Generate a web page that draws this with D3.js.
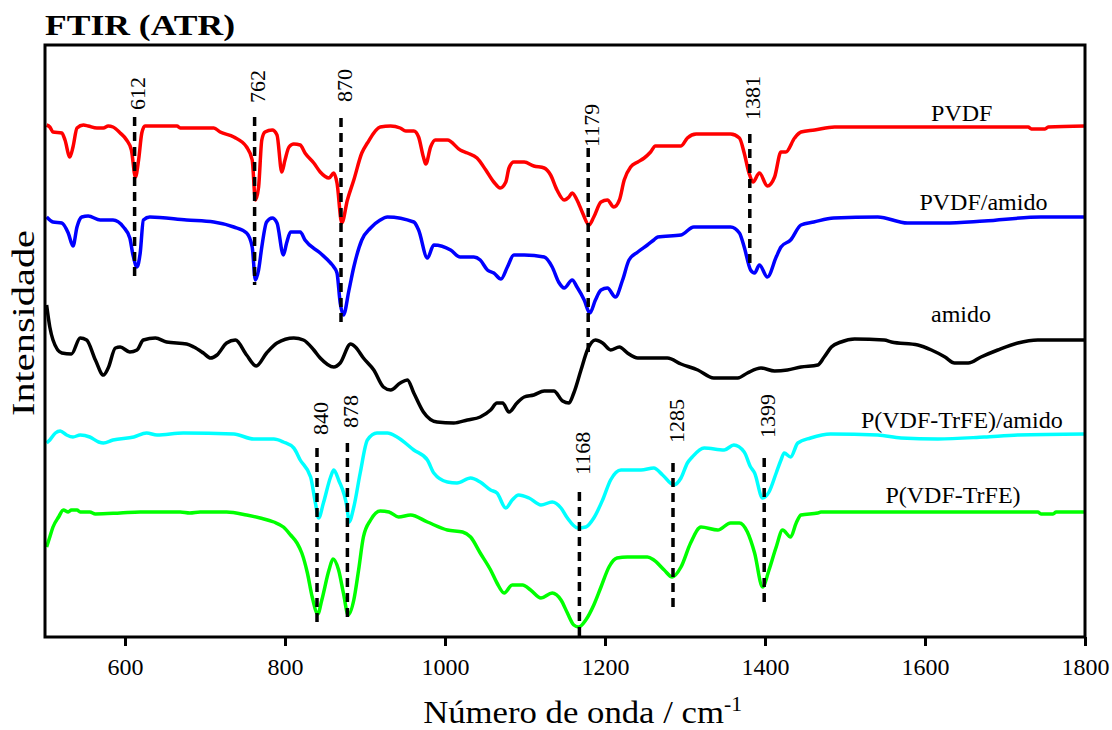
<!DOCTYPE html>
<html>
<head>
<meta charset="utf-8">
<script src="https://cdn.jsdelivr.net/npm/d3@7"></script>
<style>
    body { margin: 0; background: #fff; }
    svg { display: block; font-family: 'Liberation Serif', 'Times New Roman', serif; }
</style>
</head>
<body>
<svg id="chart"></svg>
<script>
// [wavenumber (cm-1), intensity (a.u., stacked)]
const pvdf = [[502,5.12],[506,5.10],[510,5.05],[521,5.04],[525,4.97],[531,4.80],[535,4.90],[540,5.09],[548,5.12],[554,5.11],[565,5.09],[573,5.09],[579,5.11],[585,5.10],[594,5.04],[602,4.97],[608,4.87],[613,4.60],[617,4.77],[621,5.04],[625,5.11],[665,5.11],[669,5.09],[711,5.09],[719,5.05],[736,5.00],[752,4.90],[759,4.77],[763,4.37],[767,4.50],[771,4.97],[775,5.05],[784,5.07],[790,5.02],[796,4.65],[800,4.77],[805,4.90],[811,4.93],[819,4.92],[825,4.84],[836,4.74],[844,4.65],[855,4.59],[861,4.64],[865,4.54],[871,4.14],[878,4.37],[886,4.57],[896,4.84],[903,4.94],[919,5.10],[932,5.11],[944,5.09],[951,5.06],[961,5.06],[967,5.00],[973,4.80],[976,4.73],[982,4.90],[988,4.97],[1003,4.97],[1019,4.87],[1028,4.84],[1040,4.79],[1051,4.67],[1061,4.55],[1069,4.49],[1076,4.55],[1080,4.69],[1086,4.75],[1099,4.75],[1111,4.71],[1124,4.69],[1132,4.62],[1140,4.47],[1149,4.37],[1155,4.40],[1159,4.44],[1165,4.37],[1172,4.24],[1180,4.12],[1186,4.20],[1195,4.35],[1203,4.37],[1211,4.30],[1218,4.37],[1224,4.57],[1232,4.70],[1241,4.75],[1249,4.79],[1257,4.85],[1263,4.91],[1295,4.91],[1303,4.99],[1314,5.03],[1357,5.03],[1368,4.99],[1374,4.84],[1380,4.64],[1385,4.55],[1393,4.64],[1403,4.51],[1412,4.60],[1420,4.85],[1426,4.85],[1437,4.99],[1445,5.05],[1462,5.07],[1487,5.10],[1729,5.10],[1733,5.08],[1750,5.08],[1754,5.10],[1800,5.11]]

const pvdfAmido = [[502,4.20],[510,4.15],[521,4.14],[529,4.04],[535,3.91],[540,4.10],[546,4.20],[554,4.21],[569,4.17],[585,4.17],[598,4.10],[606,3.99],[610,3.82],[615,3.70],[619,3.84],[623,4.17],[631,4.20],[677,4.17],[711,4.15],[736,4.10],[752,4.04],[759,3.90],[763,3.57],[767,3.67],[771,3.90],[777,4.15],[784,4.19],[790,4.14],[798,3.82],[802,3.94],[807,4.05],[819,4.05],[825,3.97],[844,3.84],[857,3.74],[861,3.70],[865,3.64],[869,3.34],[873,3.22],[880,3.47],[886,3.70],[896,3.97],[907,4.09],[919,4.17],[928,4.20],[961,4.15],[967,4.07],[978,3.79],[986,3.92],[1007,3.87],[1019,3.80],[1036,3.80],[1044,3.77],[1053,3.67],[1061,3.64],[1070,3.58],[1078,3.70],[1086,3.82],[1099,3.82],[1124,3.80],[1134,3.70],[1142,3.55],[1149,3.49],[1159,3.57],[1165,3.50],[1174,3.37],[1181,3.24],[1188,3.37],[1195,3.47],[1203,3.49],[1213,3.40],[1222,3.57],[1230,3.77],[1241,3.85],[1253,3.92],[1261,3.97],[1266,4.00],[1295,4.02],[1311,4.10],[1357,4.10],[1368,4.04],[1374,3.90],[1382,3.67],[1387,3.64],[1393,3.72],[1403,3.60],[1414,3.80],[1420,3.90],[1432,3.97],[1445,4.12],[1461,4.15],[1486,4.19],[1541,4.20],[1578,4.14],[1624,4.14],[1674,4.16],[1745,4.20],[1800,4.20]]

const amido = [[502,3.32],[506,3.10],[510,2.97],[521,2.84],[533,2.83],[544,2.99],[552,2.97],[563,2.77],[573,2.62],[579,2.69],[588,2.89],[594,2.90],[606,2.85],[615,2.87],[623,2.97],[638,2.99],[652,2.95],[677,2.93],[686,2.90],[698,2.84],[707,2.79],[715,2.82],[727,2.94],[738,2.97],[752,2.82],[764,2.71],[777,2.84],[790,2.94],[811,2.99],[823,2.97],[836,2.87],[844,2.79],[861,2.70],[869,2.74],[882,2.93],[888,2.90],[898,2.79],[911,2.67],[923,2.50],[932,2.47],[944,2.54],[953,2.57],[961,2.44],[973,2.25],[990,2.15],[1011,2.14],[1028,2.17],[1044,2.20],[1057,2.27],[1065,2.34],[1072,2.34],[1080,2.25],[1090,2.34],[1099,2.40],[1111,2.42],[1124,2.46],[1136,2.46],[1147,2.36],[1155,2.34],[1161,2.44],[1170,2.67],[1178,2.87],[1188,2.97],[1197,2.94],[1207,2.87],[1218,2.90],[1228,2.84],[1241,2.79],[1278,2.79],[1295,2.73],[1316,2.67],[1336,2.59],[1366,2.59],[1378,2.64],[1395,2.69],[1412,2.66],[1428,2.67],[1445,2.70],[1466,2.72],[1474,2.80],[1483,2.90],[1495,2.95],[1512,2.98],[1549,2.97],[1558,2.95],[1591,2.92],[1608,2.87],[1625,2.80],[1637,2.74],[1654,2.74],[1670,2.80],[1691,2.87],[1716,2.94],[1741,2.97],[1800,2.97]]

const trfeAmido = [[502,1.94],[506,1.97],[513,2.04],[519,2.06],[527,2.02],[535,2.00],[544,2.02],[556,2.00],[567,1.95],[573,1.94],[585,1.97],[611,2.00],[627,2.04],[640,2.02],[673,2.04],[736,2.03],[761,1.98],[786,1.98],[798,1.95],[811,1.89],[819,1.77],[832,1.60],[838,1.34],[842,1.19],[848,1.34],[857,1.60],[861,1.67],[867,1.57],[878,1.27],[880,1.15],[886,1.30],[894,1.64],[903,1.97],[915,2.04],[928,2.04],[940,2.00],[961,1.87],[978,1.77],[986,1.64],[1003,1.55],[1015,1.54],[1032,1.59],[1044,1.55],[1057,1.47],[1065,1.44],[1076,1.29],[1084,1.37],[1092,1.42],[1105,1.39],[1120,1.32],[1134,1.35],[1145,1.29],[1153,1.19],[1166,1.09],[1176,1.10],[1186,1.19],[1197,1.37],[1207,1.57],[1220,1.67],[1245,1.67],[1261,1.69],[1272,1.62],[1286,1.52],[1295,1.59],[1303,1.74],[1309,1.80],[1324,1.89],[1349,1.87],[1361,1.92],[1374,1.85],[1382,1.70],[1387,1.64],[1397,1.39],[1405,1.45],[1414,1.64],[1420,1.77],[1424,1.84],[1432,1.80],[1441,1.94],[1457,1.99],[1482,2.03],[1541,2.02],[1570,1.99],[1616,1.98],[1674,2.00],[1716,2.02],[1800,2.03]]

const trfe = [[502,0.90],[506,1.00],[510,1.10],[517,1.20],[523,1.27],[529,1.25],[533,1.27],[540,1.27],[544,1.25],[556,1.25],[563,1.23],[594,1.24],[619,1.25],[669,1.25],[681,1.24],[694,1.25],[727,1.25],[752,1.22],[769,1.19],[786,1.15],[798,1.10],[807,1.02],[815,0.94],[821,0.84],[828,0.64],[834,0.40],[841,0.23],[846,0.37],[855,0.67],[860,0.78],[867,0.67],[873,0.44],[879,0.22],[886,0.37],[892,0.67],[898,1.00],[907,1.17],[919,1.26],[930,1.25],[942,1.20],[957,1.22],[978,1.15],[1003,1.07],[1022,1.05],[1032,1.00],[1044,0.84],[1057,0.67],[1065,0.54],[1074,0.44],[1084,0.52],[1097,0.52],[1107,0.47],[1120,0.39],[1134,0.44],[1145,0.37],[1153,0.24],[1161,0.12],[1167,0.10],[1176,0.17],[1186,0.32],[1195,0.50],[1205,0.70],[1215,0.79],[1228,0.80],[1253,0.80],[1261,0.77],[1274,0.67],[1284,0.60],[1295,0.70],[1307,0.94],[1320,1.10],[1341,1.07],[1357,1.14],[1368,1.14],[1378,1.05],[1387,0.84],[1397,0.50],[1405,0.67],[1414,0.90],[1422,1.07],[1432,1.00],[1439,1.14],[1445,1.22],[1466,1.24],[1470,1.25],[1741,1.25],[1745,1.23],[1760,1.23],[1764,1.25],[1800,1.25]]

const seriesNames = ['PVDF', 'PVDF/amido', 'amido', 'P(VDF-TrFE)/amido', 'P(VDF-TrFE)']
const seriesColors = ['#ff0000', '#0000ff', '#000000', '#00ffff', '#00ff00']
// where each name sits, in data units [wavenumber, intensity]
const seriesLabelAt = [[1646, 5.16], [1673, 4.27], [1645, 3.15], [1646, 2.09], [1635, 1.34]]

// marked peaks: dashed line from peakTop to peakBottom, number at peakLabelAt
const peakWaves = [612, 762, 870, 1179, 1381, 840, 878, 1168, 1285, 1399]
const peakTop = [5.20, 5.20, 5.19, 4.89, 5.03, 1.89, 1.94, 1.45, 1.74, 1.79]
const peakBottom = [3.55, 3.52, 3.10, 2.80, 3.70, 0.09, 0.14, -0.05, 0.25, 0.31]
const peakLabelAt = [5.27, 5.34, 5.35, 4.90, 5.17, 2.02, 2.09, 1.62, 1.94, 1.99]

const xTicks = [600, 800, 1000, 1200, 1400, 1600, 1800]

class Spectra {

    constructor(_config) {
        this.config = {
            parentElement: _config.parentElement,
            containerWidth: 1112,
            containerHeight: 730,
            margin: { top: 45, right: 27, bottom: 93, left: 45 }
        }
        this.initVis()
    }

    initVis() {
        let vis = this

        vis.width = vis.config.containerWidth - vis.config.margin.left - vis.config.margin.right
        vis.height = vis.config.containerHeight - vis.config.margin.top - vis.config.margin.bottom

        vis.svg = d3.select(vis.config.parentElement)
            .attr('width', vis.config.containerWidth)
            .attr('height', vis.config.containerHeight)

        vis.chart = vis.svg.append('g')
            .attr('transform', `translate(${vis.config.margin.left}, ${vis.config.margin.top})`)

        vis.xScale = d3.scaleLinear().domain([500, 1800]).range([0, vis.width])
        vis.yScale = d3.scaleLinear().domain([0, 5.92]).range([vis.height, 0])

        vis.xAxis = d3.axisBottom(vis.xScale)
            .tickValues(xTicks)
            .tickFormat(d3.format('d'))
            .tickSize(9)
            .tickSizeOuter(0)
            .tickPadding(12)

        vis.line = d3.line()
            .x(d => vis.xScale(d[0]))
            .y(d => vis.yScale(d[1]))
            .curve(d3.curveMonotoneX)

        vis.series = [pvdf, pvdfAmido, amido, trfeAmido, trfe].map((values, i) => ({
            name: seriesNames[i],
            color: seriesColors[i],
            labelAt: seriesLabelAt[i],
            values: values
        }))

        vis.peaks = peakWaves.map((w, i) => ({
            w: w, top: peakTop[i], bottom: peakBottom[i], labelAt: peakLabelAt[i]
        }))

        vis.renderVis()
    }

    renderVis() {
        let vis = this

        vis.chart.selectAll('.spectrum')
            .data(vis.series)
            .join('path')
                .attr('class', 'spectrum')
                .attr('fill', 'none')
                .attr('stroke', d => d.color)
                .attr('stroke-width', 3.5)
                .attr('stroke-linejoin', 'round')
                .attr('d', d => vis.line(d.values))

        vis.chart.selectAll('.peak-line')
            .data(vis.peaks)
            .join('line')
                .attr('class', 'peak-line')
                .attr('x1', d => vis.xScale(d.w))
                .attr('x2', d => vis.xScale(d.w))
                .attr('y1', d => vis.yScale(d.top))
                .attr('y2', d => vis.yScale(d.bottom))
                .attr('stroke', '#000')
                .attr('stroke-width', 3.5)
                .attr('stroke-dasharray', '9,6')

        vis.chart.selectAll('.peak-label')
            .data(vis.peaks)
            .join('text')
                .attr('class', 'peak-label')
                .attr('transform', d => `translate(${vis.xScale(d.w) + 3}, ${vis.yScale(d.labelAt)}) rotate(-90)`)
                .attr('dominant-baseline', 'central')
                .attr('font-size', 22)
                .text(d => d.w)

        vis.chart.selectAll('.series-label')
            .data(vis.series)
            .join('text')
                .attr('class', 'series-label')
                .attr('x', d => vis.xScale(d.labelAt[0]))
                .attr('y', d => vis.yScale(d.labelAt[1]))
                .attr('text-anchor', 'middle')
                .attr('font-size', 24)
                .text(d => d.name)

        // frame
        vis.chart.append('rect')
            .attr('width', vis.width)
            .attr('height', vis.height)
            .attr('fill', 'none')
            .attr('stroke', '#000')
            .attr('stroke-width', 3)

        vis.xAxisGroup = vis.chart.append('g')
            .attr('transform', `translate(0, ${vis.height})`)
            .call(vis.xAxis)
        vis.xAxisGroup.select('.domain').remove()
        vis.xAxisGroup.selectAll('.tick line').attr('stroke-width', 3)
        vis.xAxisGroup.selectAll('.tick text')
            .attr('font-family', "'Liberation Serif', serif")
            .attr('font-size', 24)
            .attr('fill', '#000')

        // titles
        vis.svg.append('text')
            .attr('x', 45)
            .attr('y', 35)
            .attr('font-size', 30)
            .attr('font-weight', 'bold')
            .attr('textLength', 190)
            .attr('lengthAdjust', 'spacingAndGlyphs')
            .text('FTIR (ATR)')

        // the original type is a little wider than it is tall
        let xTitle = vis.svg.append('text')
            .attr('transform', `translate(${vis.config.margin.left + vis.xScale(1172)}, 723) scale(1.085, 1)`)
            .attr('text-anchor', 'middle')
            .attr('font-size', 32)
        xTitle.append('tspan').text('Número de onda / cm')
        xTitle.append('tspan').attr('font-size', 20).attr('dy', -12).text('-1')

        vis.svg.append('text')
            .attr('transform', 'translate(34, 323) rotate(-90)')
            .attr('text-anchor', 'middle')
            .attr('font-size', 32)
            .attr('textLength', 186)
            .attr('lengthAdjust', 'spacingAndGlyphs')
            .text('Intensidade')
    }
}

new Spectra({ parentElement: '#chart' })
</script>
</body>
</html>
